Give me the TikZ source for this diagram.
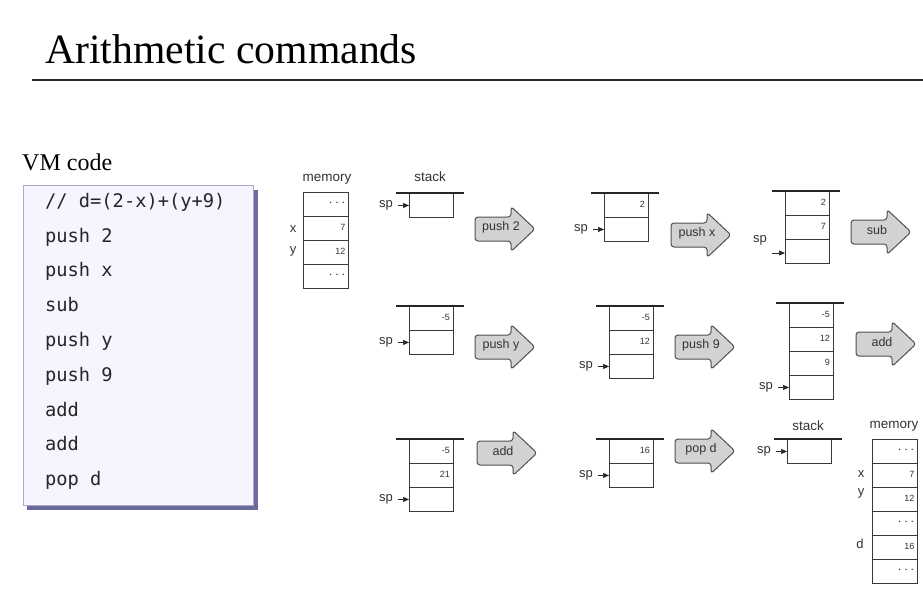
\documentclass[tikz,border=0pt]{standalone}
\usepackage{fontspec}
\setmainfont{Liberation Serif}
\setsansfont{Liberation Sans}
\setmonofont{DejaVu Sans Mono}
\usetikzlibrary{calc,arrows.meta}

\definecolor{boxfill}{HTML}{F6F4FF}
\definecolor{boxline}{HTML}{A9A9C4}
\definecolor{shadowc}{HTML}{6A6A9E}
\definecolor{arrfill}{HTML}{D2D2D2}
\definecolor{arrline}{HTML}{505050}
\definecolor{celline}{HTML}{3A3A3A}

\tikzset{
  cell/.style={draw=celline, line width=0.9pt, minimum width=43.5pt, minimum height=24pt,
    inner xsep=3pt, inner ysep=0pt, text width=37.5pt, align=right,
    font=\fontsize{9}{9}\sffamily, text=black!80, text height=6.5pt, text depth=2pt},
  mcell/.style={cell, minimum width=45pt, text width=39pt},
  topbar/.style={line width=2.6pt, black!85},
  splab/.style={font=\fontsize{13}{13}\sffamily, inner sep=1.5pt, anchor=east, text=black!80},
  sparrow/.style={-{Triangle[length=6pt,width=5pt]}, line width=0.7pt, black!85, shorten <=3pt},
  hdr/.style={font=\fontsize{13.5}{13.5}\sffamily, text=black!80, inner sep=0pt},
  varlab/.style={font=\fontsize{13}{13}\sffamily, text=black!80, inner sep=0pt, anchor=base},
  garrow/.style={draw=arrline, fill=arrfill, line width=1pt, rounded corners=3pt, line join=round},
  arrlab/.style={font=\fontsize{12.5}{12.5}\sffamily, text=black!80, inner sep=0pt},
  codeline/.style={font=\fontsize{18.7}{18.7}\ttfamily, anchor=mid west, inner sep=0pt, text=black!85}
}

\newcommand\mdots{{\fontsize{14}{14}\selectfont$\cdots$}}
\newcommand\mkstack[4]{%
  \foreach \v [count=\i] in {#4} {
    \node[cell, anchor=north west] (#1-\i) at (#2, {#3+(\i-1)*24}) {\v};
  }
  \draw[topbar] ($(#1-1.north west)+(-13,0)$) -- ($(#1-1.north east)+(11,0)$);
}
\newcommand\mkmem[4]{%
  \foreach \v [count=\i] in {#4} {
    \node[mcell, anchor=north west] (#1-\i) at (#2, {#3+(\i-1)*24}) {\v};
  }
}
\newcommand\mksp[2]{%
  \node[splab] (#1-sp) at ($(#1-#2.west)+(-14.5,0)$) {sp};
  \draw[sparrow] (#1-sp) -- (#1-#2.west);
}
\newcommand\grayarrow[4]{%
  \draw[garrow] (#2,#3-12) -- (#2+36,#3-12) -- (#2+36,#3-22.5) -- (#2+60,#3)
     -- (#2+36,#3+22.5) -- (#2+36,#3+12) -- (#2,#3+12) -- cycle;
  \node[arrlab] (#1) at (#2+26,#3-2) {#4};
}

\begin{document}
\begin{tikzpicture}[x=1pt,y=-1pt]
\useasboundingbox (0,0) rectangle (923,605);
\fill[white] (0,0) rectangle (923,605);

% title
\node[anchor=base west, font=\fontsize{41.7}{41.7}\selectfont, inner sep=0pt] (title) at (45,63) {Arithmetic commands};
\draw[line width=1.3pt, black!85] (32,80) -- (923,80);

% VM code
\node[anchor=base west, font=\fontsize{24}{24}\selectfont, inner sep=0pt] (vmlabel) at (22,170) {VM code};
\fill[shadowc] (27,190) rectangle (258,510);
\draw[boxline, fill=boxfill, line width=0.8pt] (23,185) rectangle (253,505);
\node[codeline] (c1) at (45,205.0) {// d=(2-x)+(y+9)};
\node[codeline] (c2) at (45,239.8) {push 2};
\node[codeline] (c3) at (45,274.6) {push x};
\node[codeline] (c4) at (45,309.4) {sub};
\node[codeline] (c5) at (45,344.2) {push y};
\node[codeline] (c6) at (45,379.0) {push 9};
\node[codeline] (c7) at (45,413.8) {add};
\node[codeline] (c8) at (45,448.6) {add};
\node[codeline] (c9) at (45,483.4) {pop d};

% memory (before)
\node[hdr] (memhdr1) at (327,179) {memory};
\mkmem{m1}{303}{192}{\mdots,7,12,\mdots}
\node[varlab] (m1x) at (293,232) {x};
\node[varlab] (m1y) at (293,253) {y};

% row 1
\node[hdr] (stkhdr1) at (430,177) {stack};
\mkstack{s1}{409}{193}{{}}
\mksp{s1}{1}
\grayarrow{a1}{475}{229}{push 2}

\mkstack{s2}{604}{193}{2,{}}
\mksp{s2}{2}
\grayarrow{a2}{671}{235}{push x}

\mkstack{s3}{785}{191}{2,7,{}}
\node[splab, anchor=center] (s3-sp) at (760,240) {sp};
\coordinate (s3-p) at (772,253);
\draw[sparrow, shorten <=0pt] (s3-p) -- (s3-p -| s3-3.west);
\grayarrow{a3}{851}{232}{sub}

% row 2
\mkstack{s4}{409}{306}{-5,{}}
\mksp{s4}{2}
\grayarrow{a4}{475}{347}{push y}

\mkstack{s5}{609}{306}{-5,12,{}}
\mksp{s5}{3}
\grayarrow{a5}{675}{347}{push 9}

\mkstack{s6}{789}{303}{-5,12,9,{}}
\mksp{s6}{4}
\grayarrow{a6}{856}{344}{add}

% row 3
\mkstack{s7}{409}{439}{-5,21,{}}
\mksp{s7}{3}
\grayarrow{a7}{477}{453}{add}

\mkstack{s8}{609}{439}{16,{}}
\mksp{s8}{2}
\grayarrow{a8}{675}{451}{pop d}

\node[hdr] (stkhdr2) at (808,426) {stack};
\mkstack{s9}{787}{439}{{}}
\mksp{s9}{1}

% memory (after)
\node[hdr] (memhdr2) at (894,426) {memory};
\mkmem{m2}{872}{439}{\mdots,7,12,\mdots,16,\mdots}
\node[varlab] (m2x) at (861,477) {x};
\node[varlab] (m2y) at (861,495) {y};
\node[varlab] (m2d) at (860,548) {d};
\end{tikzpicture}
\end{document}
